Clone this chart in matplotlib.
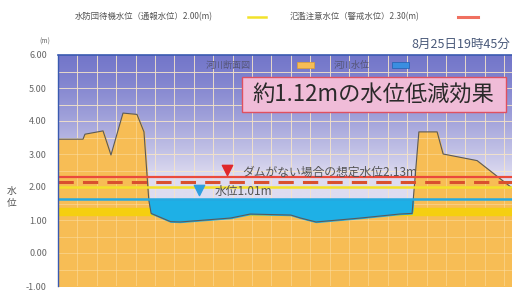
import matplotlib.pyplot as plt
import numpy as np
from matplotlib.patches import Rectangle

plt.rcParams['font.family'] = ['Noto Sans CJK JP', 'DejaVu Sans']

# 河川断面 (横断距離, 標高 m)
dist = [0, 1.29, 1.39, 2.32, 2.73, 3.35, 4.07, 4.43, 4.68, 4.80, 5.8, 6.3, 8.9, 9.9,
        12.0, 12.5, 13.3, 15.6, 17.6, 18.25, 18.6, 19.54, 19.85, 21.6, 23.4]
elev = [3.45, 3.45, 3.6, 3.7, 2.97, 4.24, 4.2, 3.67, 1.6, 1.2, 0.95, 0.94, 1.06, 1.18,
        1.15, 1.06, 0.94, 1.06, 1.18, 1.2, 3.67, 3.67, 3.0, 2.8, 1.97]

water_level = 1.63
taiki_level = 2.00      # 水防団待機水位
chui_level = 2.30       # 氾濫注意水位
no_dam_level = 2.15     # ダムがない場合の想定水位
band_low, band_high = 1.15, 1.37

yticks = [6, 5, 4, 3, 2, 1, 0, -1]
ytick_labels = ['6.00', '5.00', '4.00', '3.00', '2.00', '1.00', '0.00', '-1.00']

fig = plt.figure(figsize=(5.12, 2.9), dpi=100, facecolor='white')
ax = fig.add_axes([58 / 512, 1 - 286 / 290, 1 - 58 / 512, (286 - 55) / 290])
xmax = 23.4
ax.set_xlim(0, xmax)
ax.set_ylim(-1, 6)

# 背景グラデーション
grad = np.linspace(0, 1, 256).reshape(-1, 1)
top = np.array([115, 118, 202]) / 255
low = np.array([222, 220, 240]) / 255
cols = top + (low - top) * np.clip(grad * 1.3, 0, 1)[..., None] ** 1.3
ax.imshow(cols, extent=[0, xmax, 1.2, 6], aspect='auto', zorder=0, origin='upper')
ax.axhspan(-1, 1.2, color=low, zorder=0)

# グリッド
for gx in np.arange(1, xmax, 1):
    ax.axvline(gx, color='#eeebf8', lw=0.7, alpha=0.75, zorder=1)
for gy in np.arange(-0.5, 6, 0.5):
    ax.axhline(gy, color='#eeebf8', lw=0.7, alpha=0.75, zorder=1)

d = np.array(dist)
z = np.array(elev)

# 河川断面
ax.fill_between(d, -1, z, color='#f7bd55', zorder=2)
ax.plot(d, z, color='#5a5a5a', lw=0.8, zorder=5)
for gx in np.arange(1, xmax, 1):
    ax.axvline(gx, color='#fbe0a8', lw=0.6, alpha=0.6, zorder=2.5)
for gy in np.arange(-0.5, 6, 0.5):
    ax.axhline(gy, color='#fbe0a8', lw=0.6, alpha=0.6, zorder=2.5)

# 黄色帯
ax.axhspan(band_low, band_high, color='#f5cf10', zorder=3)

# 河川水位
dd = np.linspace(4.7, 18.4, 400)
zz = np.interp(dd, d, z)
ax.fill_between(dd, zz, water_level, where=zz < water_level, color='#1eb0e6', zorder=4)

# 水位ライン
ax.axhline(water_level, color='#25a9e0', lw=1.8, zorder=6)
ax.axhline(taiki_level, color='#f2e22a', lw=1.8, zorder=6)
ax.axhline(no_dam_level, color='#d9502e', lw=2.2, dashes=(5, 3), zorder=6)
ax.axhline(chui_level, color='#ea4a3c', lw=1.6, zorder=6)

# 注記
ax.scatter([8.71], [2.52], marker='v', s=55, color='#e0282a', zorder=7)
ax.text(9.5, 2.45, 'ダムがない場合の想定水位2.13m', fontsize=8.5, color='#555555',
        va='center', ha='left', zorder=7)
ax.scatter([7.27], [1.91], marker='v', s=55, color='#2e9fe0', zorder=7)
ax.text(8.1, 1.85, '水位1.01m', fontsize=8.5, color='#555555', va='center', ha='left', zorder=7)

# 凡例 (内部)
ax.text(7.6, 5.7, '河川断面図', fontsize=6.5, color='#555577', va='center', ha='left', zorder=8)
ax.add_patch(Rectangle((12.3, 5.6), 0.9, 0.2, facecolor='#f7bd55', edgecolor='#e0a030', lw=0.5, zorder=8))
ax.text(14.2, 5.7, '河川水位', fontsize=6.5, color='#555577', va='center', ha='left', zorder=8)
ax.add_patch(Rectangle((17.2, 5.6), 0.9, 0.2, facecolor='#3a8ee0', edgecolor='#2060b0', lw=0.5, zorder=8))

# 効果ボックス
ax.add_patch(Rectangle((9.48, 4.27), 13.6, 1.06, facecolor='#f0bcd8', edgecolor='#e05060',
                       lw=1.0, zorder=8))
ax.text(10.0, 4.80, '約1.12mの水位低減効果', fontsize=16, color='#2a2a2a',
        va='center', ha='left', zorder=9)

# 軸
ax.set_xticks([])
ax.set_yticks(yticks)
ax.set_yticklabels(ytick_labels, fontsize=6.5, color='#666666')
ax.tick_params(axis='y', length=0, pad=8)
for s in ['left', 'bottom', 'right']:
    ax.spines[s].set_visible(False)
ax.spines['top'].set_color('#3a5ab0')
ax.spines['top'].set_linewidth(1.2)
ax.plot([0, 0], [-1, 6], color='#3a5ab0', lw=1.0, zorder=9, clip_on=False)

# 図のテキスト
fig.text(45 / 512, 1 - 42 / 290, '(m)', fontsize=5, color='#666666', ha='center', va='center')
fig.text(12 / 512, 1 - 197 / 290, '水\n位', fontsize=7, color='#555555', ha='center', va='center',
         linespacing=1.2)
fig.text(75 / 512, 1 - 17 / 290, '水防団待機水位（通報水位）2.00(m)', fontsize=6, color='#555555',
         ha='left', va='center')
fig.add_artist(plt.Line2D([248 / 512, 266 / 512], [1 - 17 / 290] * 2, color='#f2e22a', lw=1.8))
fig.text(290 / 512, 1 - 17 / 290, '氾濫注意水位（警戒水位）2.30(m)', fontsize=6, color='#555555',
         ha='left', va='center')
fig.add_artist(plt.Line2D([458 / 512, 478 / 512], [1 - 17 / 290] * 2, color='#f07060', lw=2.2))
fig.text(510 / 512, 1 - 44 / 290, '8月25日19時45分', fontsize=9, color='#4a5a7a',
         ha='right', va='center')

fig.savefig('out.png', dpi=100, facecolor='white')
